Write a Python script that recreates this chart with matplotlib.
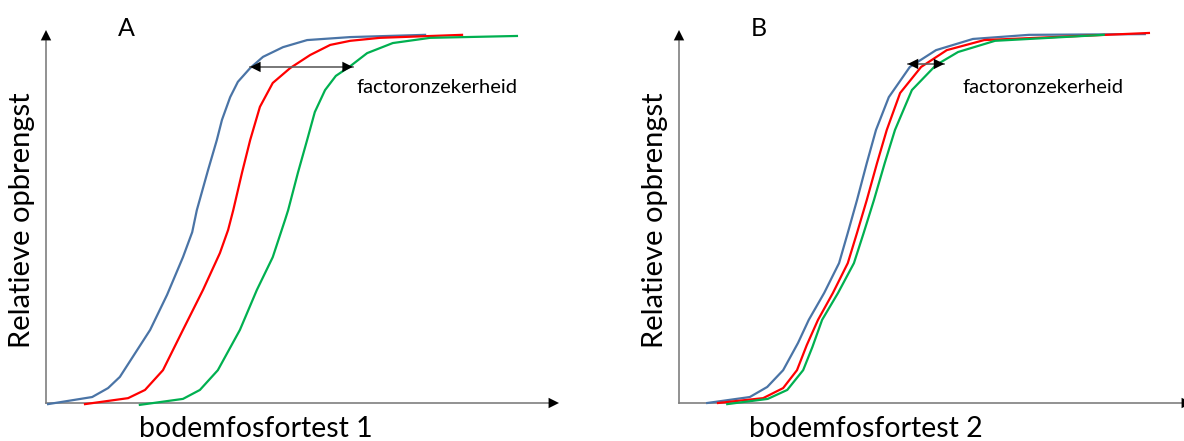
import matplotlib
matplotlib.use("Agg")
import matplotlib.pyplot as plt

plt.rcParams['font.family'] = ['Lato', 'DejaVu Sans']

# Curves read as (bodemfosfortest, relatieve opbrengst) on a 0-100 scale
a_blue_x = [0.4, 9.0, 12.1, 14.4, 20.3, 23.6, 26.7, 28.5, 29.4, 31.6, 33.3, 34.3, 35.9,
            37.4, 39.8, 42.3, 46.2, 50.9, 59.3, 73.9]
a_blue_y = [-0.3, 1.6, 4.0, 7.0, 19.6, 29.0, 39.1, 45.8, 51.7, 62.5, 70.5, 75.9, 82.0,
            86.1, 89.8, 92.8, 95.4, 97.3, 98.1, 98.7]
a_red_x = [7.6, 16.0, 19.3, 22.8, 26.7, 30.6, 33.9, 35.5, 36.5, 38.2, 39.8, 41.7, 44.2,
           47.6, 51.5, 55.4, 59.3, 65.1, 81.1]
a_red_y = [-0.3, 1.3, 3.5, 8.8, 19.6, 30.3, 40.2, 46.4, 51.7, 61.7, 70.5, 79.4, 85.8,
           89.8, 93.3, 96.0, 97.1, 97.9, 98.7]
a_green_x = [18.3, 26.7, 30.0, 33.5, 37.8, 41.1, 44.2, 46.6, 47.2, 49.1, 50.9, 52.4, 54.4,
             56.5, 59.3, 62.6, 67.6, 74.9, 91.8]
a_green_y = [-0.5, 1.1, 3.5, 8.8, 19.6, 30.3, 39.1, 49.1, 51.7, 61.7, 70.5, 78.0, 83.9,
             87.7, 90.3, 93.8, 96.5, 97.9, 98.4]

b_blue_x = [5.5, 13.8, 17.2, 20.3, 23.2, 25.3, 28.3, 31.2, 32.9, 34.7, 36.6, 38.4, 40.9,
            45.0, 50.1, 57.3, 68.2, 90.8]
b_blue_y = [0.0, 1.6, 4.3, 8.8, 16.1, 22.3, 29.5, 37.5, 45.6, 54.4, 64.3, 73.2, 82.0,
            90.1, 94.6, 97.6, 98.7, 98.9]
b_red_x = [7.6, 16.4, 20.3, 23.0, 24.9, 27.1, 30.0, 32.9, 34.7, 36.6, 38.6, 40.5, 43.1,
           47.2, 52.2, 59.5, 91.6]
b_red_y = [0.0, 1.3, 4.0, 8.8, 15.5, 22.3, 29.5, 37.5, 45.6, 54.4, 64.3, 73.2, 83.1,
           90.1, 94.6, 97.3, 99.2]
b_green_x = [9.4, 17.3, 21.1, 24.2, 26.0, 27.9, 31.0, 34.1, 36.0, 38.0, 40.1, 42.1, 45.4,
             50.1, 54.4, 61.6, 82.8]
b_green_y = [-0.3, 1.1, 3.5, 8.8, 15.0, 22.3, 29.5, 37.5, 45.6, 54.4, 64.3, 73.2, 83.9,
             90.6, 94.1, 97.1, 98.7]

# spread arrow (x from, x to, y) for each panel
a_spread = (39.8, 59.8, 90.1)
b_spread = (44.6, 51.7, 90.9)

panels = [
    dict(left=46, letter='A', xlabel='bodemfosfortest 1', spread=a_spread,
         curves=[(a_blue_x, a_blue_y), (a_red_x, a_red_y), (a_green_x, a_green_y)],
         text_x=60.6, xlabel_x=40.9),
    dict(left=679, letter='B', xlabel='bodemfosfortest 2', spread=b_spread,
         curves=[(b_blue_x, b_blue_y), (b_red_x, b_red_y), (b_green_x, b_green_y)],
         text_x=55.2, xlabel_x=36.5),
]
colors = ['#4a74a6', '#ff0000', '#00b050']

W, H = 1184, 441
fig = plt.figure(figsize=(W / 100, H / 100), dpi=100)

for p in panels:
    ax = fig.add_axes([p['left'] / W, (H - 403) / H, 513 / W, 373 / H])
    ax.set_xlim(0, 100)
    ax.set_ylim(0, 100)
    ax.axis('off')

    # axes as arrows
    ax.plot([0, 98], [0, 0], color='#7f7f7f', lw=1.2, clip_on=False)
    ax.plot([0, 0], [0, 97], color='#7f7f7f', lw=1.2, clip_on=False)
    head = dict(arrowstyle='-|>,head_length=0.5,head_width=0.25', color='black',
                lw=0, mutation_scale=15, shrinkA=0, shrinkB=0)
    ax.annotate('', xy=(100, 0), xytext=(97, 0), arrowprops=head, annotation_clip=False)
    ax.annotate('', xy=(0, 100), xytext=(0, 96), arrowprops=head, annotation_clip=False)

    for (x, y), c in zip(p['curves'], colors):
        ax.plot(x, y, color=c, lw=1.6, clip_on=False, solid_joinstyle='round')

    x0, x1, ys = p['spread']
    ax.plot([x0, x1], [ys, ys], color='#606060', lw=1.2)
    ax.annotate('', xy=(x0, ys), xytext=(x0 + 2, ys), arrowprops=head)
    ax.annotate('', xy=(x1, ys), xytext=(x1 - 2, ys), arrowprops=head)

    ax.text(p['text_x'], 84.7, 'factoronzekerheid', fontsize=14.5, ha='left', va='center')
    ax.text(15.6, 100.5, p['letter'], fontsize=18, ha='center', va='center')
    ax.text(-4.6, 49, 'Relatieve opbrengst', fontsize=21, rotation=90,
            ha='center', va='center')
    ax.text(p['xlabel_x'], -9.2, p['xlabel'], fontsize=20.5, ha='center', va='baseline')

fig.savefig('out.png', dpi=100)
